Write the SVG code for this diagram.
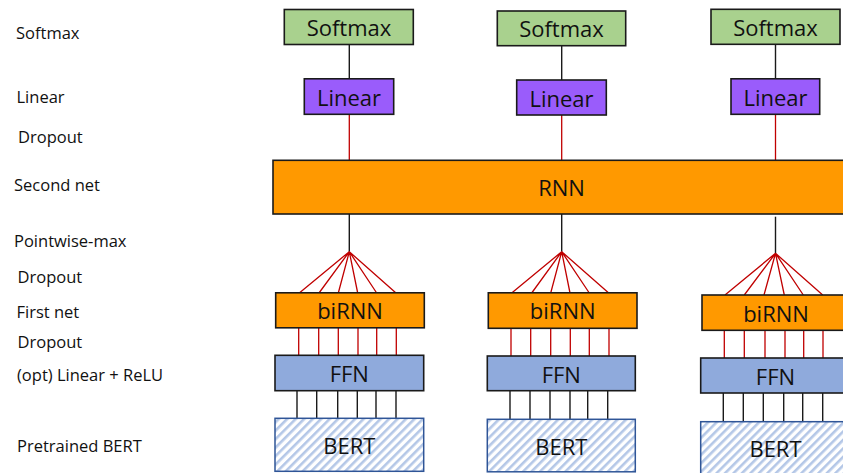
<svg xmlns="http://www.w3.org/2000/svg" width="843" height="473" viewBox="0 0 843 473">
  <style>
    .lbl { font-family: "Open Sans", "Noto Sans", sans-serif; font-size: 16.5px; fill: #111; }
    .txt { font-family: "Open Sans", "Noto Sans", sans-serif; font-size: 22px; fill: #111; text-anchor: middle; }
    .box { stroke: #1a1a1a; stroke-width: 1.6; }
    .softmax { fill: #a9d18e; }
    .linear { fill: #9a5cfb; }
    .orange { fill: #ff9900; }
    .ffn { fill: #8faadc; }
    .bert { fill: url(#hatch); stroke: #2f5597; stroke-width: 1.5; }
    .red { stroke: #c00000; stroke-width: 1.3; fill: none; }
    .blk { stroke: #1a1a1a; stroke-width: 1.4; fill: none; }
  </style>
  <defs>
    <pattern id="hatch" width="6" height="6" patternUnits="userSpaceOnUse" patternTransform="rotate(45)">
      <rect width="6" height="6" fill="#ffffff"/>
      <rect width="2.6" height="6" fill="#b4c7e7"/>
    </pattern>
  </defs>
  <rect width="843" height="473" fill="#ffffff"/>

  <!-- layer labels -->
  <g id="labels">
    <text class="lbl" x="16" y="39">Softmax</text>
    <text class="lbl" x="16.5" y="103">Linear</text>
    <text class="lbl" x="18" y="142.5">Dropout</text>
    <text class="lbl" x="14" y="190.5">Second net</text>
    <text class="lbl" x="14" y="246.5">Pointwise-max</text>
    <text class="lbl" x="17.5" y="282.5">Dropout</text>
    <text class="lbl" x="16.5" y="317.5">First net</text>
    <text class="lbl" x="17.5" y="347.5">Dropout</text>
    <text class="lbl" x="17" y="381">(opt) Linear + ReLU</text>
    <text class="lbl" x="17" y="452">Pretrained BERT</text>
  </g>

  <!-- connectors -->
  <g id="connectors">
    <!-- column 1 -->
    <line class="blk" x1="349.3" y1="44" x2="349.3" y2="79"/>
    <line class="red" x1="349.3" y1="114" x2="349.3" y2="160"/>
    <line class="blk" x1="349.3" y1="214" x2="349.3" y2="251.7"/>
    <path class="red" d="M349.3 251.7 L299.3 293 M349.3 251.7 L319 293 M349.3 251.7 L338.3 293 M349.3 251.7 L357.7 293 M349.3 251.7 L376.7 293 M349.3 251.7 L396 293"/>
    <path class="red" d="M298.7 328 V355 M318.7 328 V355 M338.3 328 V355 M358 328 V355 M376.7 328 V355 M396.3 328 V355"/>
    <path class="blk" d="M297 391 V418 M316.7 391 V418 M337.7 391 V418 M357.3 391 V418 M376 391 V418 M396 391 V418"/>
    <!-- column 2 -->
    <line class="blk" x1="561.7" y1="46" x2="561.7" y2="80"/>
    <line class="red" x1="561.7" y1="115" x2="561.7" y2="160"/>
    <line class="blk" x1="561.7" y1="214" x2="561.7" y2="251.7"/>
    <path class="red" d="M561.7 251.7 L511.7 293 M561.7 251.7 L531.7 293 M561.7 251.7 L550.7 293 M561.7 251.7 L570 293 M561.7 251.7 L589.3 293 M561.7 251.7 L608.7 293"/>
    <path class="red" d="M511 328 V356 M530.7 328 V356 M550.7 328 V356 M570.3 328 V356 M589.3 328 V356 M609 328 V356"/>
    <path class="blk" d="M510 391 V419 M530 391 V419 M550 391 V419 M570 391 V419 M587.7 391 V419 M607.7 391 V419"/>
    <!-- column 3 -->
    <line class="blk" x1="775.5" y1="44" x2="775.5" y2="79"/>
    <line class="red" x1="775.5" y1="114" x2="775.5" y2="160"/>
    <line class="blk" x1="775.5" y1="216.7" x2="775.5" y2="253.3"/>
    <path class="red" d="M775.5 253.3 L725 295 M775.5 253.3 L744.3 295 M775.5 253.3 L764 295 M775.5 253.3 L784.3 295 M775.5 253.3 L803.3 295 M775.5 253.3 L822.7 295"/>
    <path class="red" d="M724.3 330 V358 M744.3 330 V358 M765 330 V358 M785 330 V358 M803.7 330 V358 M823 330 V358"/>
    <path class="blk" d="M723.3 393 V421.7 M743.3 393 V421.7 M763.3 393 V421.7 M783.7 393 V421.7 M802.7 393 V421.7 M822.7 393 V421.7"/>
  </g>

  <!-- second net -->
  <g id="rnn">
    <rect class="box orange" x="273" y="160.3" width="580" height="53.7"/>
    <text class="txt" x="561.5" y="195.5">RNN</text>
  </g>

  <!-- column 1 -->
  <g id="softmax-1">
    <rect class="box softmax" x="284.3" y="9.5" width="129" height="35"/>
    <text class="txt" x="349" y="35.5">Softmax</text>
  </g>
  <g id="linear-1">
    <rect class="box linear" x="304.3" y="78.8" width="89.4" height="35.5"/>
    <text class="txt" x="349" y="105.5">Linear</text>
  </g>
  <g id="birnn-1">
    <rect class="box orange" x="275.7" y="292.8" width="148.6" height="35"/>
    <text class="txt" x="350" y="319">biRNN</text>
  </g>
  <g id="ffn-1">
    <rect class="box ffn" x="275" y="355.3" width="148.7" height="35.4"/>
    <text class="txt" x="349.3" y="382">FFN</text>
  </g>
  <g id="bert-1">
    <rect class="bert" x="275" y="418.3" width="148.7" height="53"/>
    <text class="txt" x="349.3" y="453.5">BERT</text>
  </g>

  <!-- column 2 -->
  <g id="softmax-2">
    <rect class="box softmax" x="497.3" y="11" width="128.4" height="34.7"/>
    <text class="txt" x="561.5" y="37">Softmax</text>
  </g>
  <g id="linear-2">
    <rect class="box linear" x="516.7" y="80" width="89.6" height="35"/>
    <text class="txt" x="561.5" y="107">Linear</text>
  </g>
  <g id="birnn-2">
    <rect class="box orange" x="488.3" y="292.8" width="148.7" height="35.5"/>
    <text class="txt" x="562.7" y="319.3">biRNN</text>
  </g>
  <g id="ffn-2">
    <rect class="box ffn" x="487.3" y="356" width="148" height="34.7"/>
    <text class="txt" x="561.3" y="382.5">FFN</text>
  </g>
  <g id="bert-2">
    <rect class="bert" x="487.3" y="419.3" width="148" height="52.5"/>
    <text class="txt" x="561.3" y="454.5">BERT</text>
  </g>

  <!-- column 3 -->
  <g id="softmax-3">
    <rect class="box softmax" x="711" y="9.3" width="129" height="35"/>
    <text class="txt" x="775.5" y="35.5">Softmax</text>
  </g>
  <g id="linear-3">
    <rect class="box linear" x="731" y="78.8" width="88.7" height="35.5"/>
    <text class="txt" x="775.5" y="105.5">Linear</text>
  </g>
  <g id="birnn-3">
    <rect class="box orange" x="702" y="295" width="150" height="35.3"/>
    <text class="txt" x="776" y="321.5">biRNN</text>
  </g>
  <g id="ffn-3">
    <rect class="box ffn" x="700.7" y="358" width="152" height="35"/>
    <text class="txt" x="775.5" y="384.5">FFN</text>
  </g>
  <g id="bert-3">
    <rect class="bert" x="700.7" y="421.7" width="152" height="55"/>
    <text class="txt" x="775.5" y="457">BERT</text>
  </g>
</svg>
